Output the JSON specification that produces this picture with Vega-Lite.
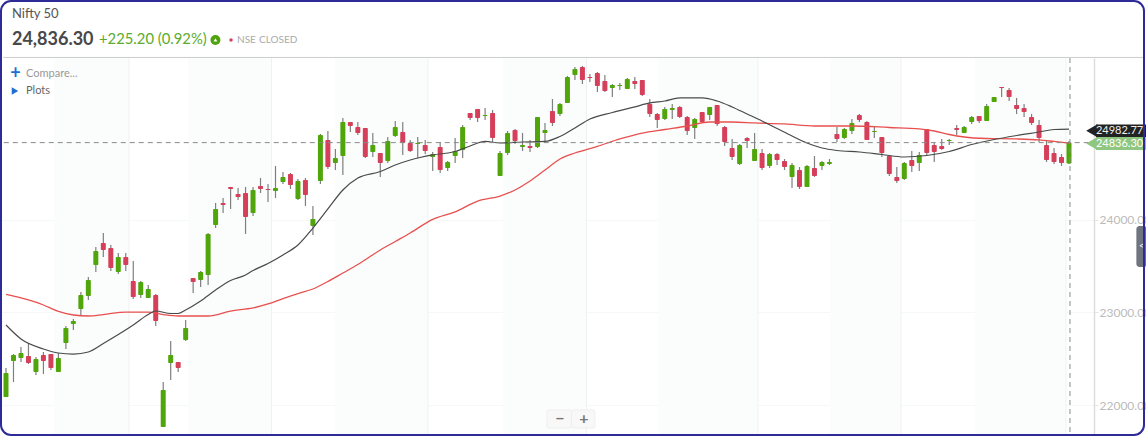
{"$schema":"https://vega.github.io/schema/vega-lite/v6.json","width":1094,"height":378,"padding":{"left":0,"top":58,"right":52,"bottom":0},"autosize":{"type":"none"},"background":"#ffffff","config":{"view":{"stroke":null},"axisX":{"disable":true},"axisY":{"title":null,"domainColor":"#dddddd","domainWidth":1.5,"tickColor":"#e4e4e4","tickSize":4,"labelColor":"#bbbbbb","labelFont":"Lato","labelFontSize":12,"labelPadding":1,"labelBound":false,"labelFlush":false,"gridColor":"#f6f7f7","format":".2f"},"scale":{"continuousPadding":0},"text":{"font":"Lato"}},"data":{"values":[{}]},"datasets":{"candles":[{"i":0,"o":22087,"h":22400,"l":22087,"c":22346},{"i":1,"o":22475,"h":22551,"l":22249,"c":22540},{"i":2,"o":22508,"h":22627,"l":22465,"c":22562},{"i":3,"o":22530,"h":22670,"l":22443,"c":22454},{"i":4,"o":22357,"h":22519,"l":22324,"c":22497},{"i":5,"o":22540,"h":22573,"l":22335,"c":22475},{"i":6,"o":22551,"h":22551,"l":22378,"c":22400},{"i":7,"o":22357,"h":22562,"l":22357,"c":22508},{"i":8,"o":22670,"h":22854,"l":22605,"c":22832},{"i":9,"o":22876,"h":22930,"l":22811,"c":22908},{"i":10,"o":23038,"h":23222,"l":22973,"c":23189},{"i":11,"o":23178,"h":23384,"l":23135,"c":23351},{"i":12,"o":23514,"h":23708,"l":23438,"c":23665},{"i":13,"o":23751,"h":23859,"l":23600,"c":23676},{"i":14,"o":23697,"h":23730,"l":23449,"c":23481},{"i":15,"o":23438,"h":23643,"l":23416,"c":23600},{"i":16,"o":23600,"h":23643,"l":23449,"c":23514},{"i":17,"o":23341,"h":23557,"l":23146,"c":23168},{"i":18,"o":23189,"h":23341,"l":23157,"c":23330},{"i":19,"o":23157,"h":23297,"l":23157,"c":23254},{"i":20,"o":23189,"h":23200,"l":22854,"c":22908},{"i":21,"o":21762,"h":22249,"l":21762,"c":22162},{"i":22,"o":22454,"h":22692,"l":22270,"c":22540},{"i":23,"o":22465,"h":22465,"l":22357,"c":22400},{"i":24,"o":22703,"h":22919,"l":22692,"c":22832},{"i":25,"o":23373,"h":23373,"l":23211,"c":23330},{"i":26,"o":23351,"h":23449,"l":23276,"c":23438},{"i":27,"o":23405,"h":23859,"l":23297,"c":23849},{"i":28,"o":23946,"h":24184,"l":23913,"c":24119},{"i":29,"o":24184,"h":24238,"l":24076,"c":24162},{"i":30,"o":24357,"h":24357,"l":24119,"c":24335},{"i":31,"o":24281,"h":24346,"l":24216,"c":24248},{"i":32,"o":24292,"h":24357,"l":23849,"c":24032},{"i":33,"o":24076,"h":24357,"l":24043,"c":24324},{"i":34,"o":24367,"h":24454,"l":24292,"c":24335},{"i":35,"o":24335,"h":24389,"l":24195,"c":24324},{"i":36,"o":24313,"h":24584,"l":24238,"c":24346},{"i":37,"o":24411,"h":24519,"l":24389,"c":24465},{"i":38,"o":24497,"h":24508,"l":24335,"c":24378},{"i":39,"o":24227,"h":24443,"l":24216,"c":24421},{"i":40,"o":24432,"h":24454,"l":24151,"c":24270},{"i":41,"o":23935,"h":24151,"l":23838,"c":24011},{"i":42,"o":24421,"h":24930,"l":24389,"c":24919},{"i":43,"o":24865,"h":24962,"l":24551,"c":24573},{"i":44,"o":24616,"h":24767,"l":24540,"c":24670},{"i":45,"o":24692,"h":25103,"l":24486,"c":25059},{"i":46,"o":25059,"h":25059,"l":24951,"c":25016},{"i":47,"o":25005,"h":25059,"l":24919,"c":24941},{"i":48,"o":24995,"h":24995,"l":24670,"c":24681},{"i":49,"o":24735,"h":24941,"l":24681,"c":24811},{"i":50,"o":24724,"h":24724,"l":24465,"c":24616},{"i":51,"o":24638,"h":24897,"l":24616,"c":24854},{"i":52,"o":24908,"h":25070,"l":24897,"c":25005},{"i":53,"o":24951,"h":25059,"l":24703,"c":24832},{"i":54,"o":24832,"h":24865,"l":24735,"c":24746},{"i":55,"o":24822,"h":24897,"l":24670,"c":24832},{"i":56,"o":24811,"h":24865,"l":24713,"c":24746},{"i":57,"o":24681,"h":24735,"l":24530,"c":24713},{"i":58,"o":24789,"h":24843,"l":24508,"c":24540},{"i":59,"o":24562,"h":24638,"l":24530,"c":24627},{"i":60,"o":24692,"h":24886,"l":24616,"c":24746},{"i":61,"o":24757,"h":25027,"l":24670,"c":25005},{"i":62,"o":25157,"h":25157,"l":25081,"c":25103},{"i":63,"o":25200,"h":25200,"l":25059,"c":25103},{"i":64,"o":25124,"h":25211,"l":25081,"c":25135},{"i":65,"o":25157,"h":25189,"l":24832,"c":24886},{"i":66,"o":24475,"h":24746,"l":24475,"c":24724},{"i":67,"o":24724,"h":24962,"l":24703,"c":24941},{"i":68,"o":24973,"h":24984,"l":24822,"c":24854},{"i":69,"o":24789,"h":24941,"l":24746,"c":24811},{"i":70,"o":24800,"h":24865,"l":24735,"c":24778},{"i":71,"o":24789,"h":25113,"l":24778,"c":25113},{"i":72,"o":24941,"h":25049,"l":24832,"c":24973},{"i":73,"o":25178,"h":25308,"l":25016,"c":25049},{"i":74,"o":25146,"h":25265,"l":25124,"c":25254},{"i":75,"o":25265,"h":25557,"l":25265,"c":25546},{"i":76,"o":25567,"h":25654,"l":25513,"c":25632},{"i":77,"o":25654,"h":25665,"l":25470,"c":25513},{"i":78,"o":25546,"h":25578,"l":25492,"c":25535},{"i":79,"o":25589,"h":25600,"l":25384,"c":25449},{"i":80,"o":25503,"h":25567,"l":25384,"c":25395},{"i":81,"o":25427,"h":25470,"l":25330,"c":25459},{"i":82,"o":25449,"h":25481,"l":25405,"c":25459},{"i":83,"o":25416,"h":25535,"l":25416,"c":25524},{"i":84,"o":25503,"h":25546,"l":25416,"c":25470},{"i":85,"o":25513,"h":25513,"l":25340,"c":25351},{"i":86,"o":25254,"h":25308,"l":25113,"c":25146},{"i":87,"o":25146,"h":25157,"l":24995,"c":25081},{"i":88,"o":25092,"h":25222,"l":25081,"c":25200},{"i":89,"o":25189,"h":25254,"l":25092,"c":25211},{"i":90,"o":25222,"h":25232,"l":25103,"c":25113},{"i":91,"o":25113,"h":25124,"l":24919,"c":24962},{"i":92,"o":24995,"h":25103,"l":24876,"c":25092},{"i":93,"o":25168,"h":25168,"l":25049,"c":25059},{"i":94,"o":25135,"h":25222,"l":25081,"c":25222},{"i":95,"o":25243,"h":25243,"l":25016,"c":25038},{"i":96,"o":25005,"h":25016,"l":24800,"c":24843},{"i":97,"o":24778,"h":24876,"l":24648,"c":24681},{"i":98,"o":24605,"h":24822,"l":24594,"c":24811},{"i":99,"o":24886,"h":24897,"l":24778,"c":24854},{"i":100,"o":24638,"h":24941,"l":24638,"c":24767},{"i":101,"o":24724,"h":24767,"l":24540,"c":24562},{"i":102,"o":24584,"h":24724,"l":24562,"c":24713},{"i":103,"o":24713,"h":24724,"l":24594,"c":24648},{"i":104,"o":24638,"h":24659,"l":24540,"c":24573},{"i":105,"o":24465,"h":24616,"l":24346,"c":24594},{"i":106,"o":24540,"h":24573,"l":24335,"c":24357},{"i":107,"o":24357,"h":24594,"l":24357,"c":24584},{"i":108,"o":24562,"h":24692,"l":24465,"c":24475},{"i":109,"o":24584,"h":24638,"l":24540,"c":24627},{"i":110,"o":24605,"h":24659,"l":24594,"c":24627},{"i":111,"o":24930,"h":25005,"l":24843,"c":24876},{"i":112,"o":24886,"h":24995,"l":24876,"c":24984},{"i":113,"o":24962,"h":25092,"l":24930,"c":25049},{"i":114,"o":25135,"h":25146,"l":25059,"c":25081},{"i":115,"o":25059,"h":25070,"l":24865,"c":24865},{"i":116,"o":24951,"h":25005,"l":24886,"c":24962},{"i":117,"o":24897,"h":24897,"l":24681,"c":24724},{"i":118,"o":24692,"h":24703,"l":24475,"c":24497},{"i":119,"o":24465,"h":24573,"l":24400,"c":24421},{"i":120,"o":24443,"h":24627,"l":24432,"c":24616},{"i":121,"o":24648,"h":24746,"l":24519,"c":24584},{"i":122,"o":24616,"h":24735,"l":24530,"c":24703},{"i":123,"o":24984,"h":24984,"l":24703,"c":24724},{"i":124,"o":24811,"h":24832,"l":24627,"c":24735},{"i":125,"o":24800,"h":24876,"l":24757,"c":24767},{"i":126,"o":24854,"h":24876,"l":24811,"c":24865},{"i":127,"o":24995,"h":25027,"l":24919,"c":24973},{"i":128,"o":24941,"h":25016,"l":24941,"c":25005},{"i":129,"o":25059,"h":25124,"l":25038,"c":25113},{"i":130,"o":25124,"h":25124,"l":25049,"c":25070},{"i":131,"o":25070,"h":25254,"l":25070,"c":25232},{"i":132,"o":25276,"h":25330,"l":25276,"c":25330},{"i":133,"o":25438,"h":25438,"l":25330,"c":25427},{"i":134,"o":25405,"h":25427,"l":25286,"c":25330},{"i":135,"o":25243,"h":25319,"l":25146,"c":25200},{"i":136,"o":25211,"h":25254,"l":25113,"c":25168},{"i":137,"o":25113,"h":25146,"l":25027,"c":25049},{"i":138,"o":25027,"h":25081,"l":24843,"c":24886},{"i":139,"o":24811,"h":24854,"l":24627,"c":24648},{"i":140,"o":24724,"h":24778,"l":24605,"c":24627},{"i":141,"o":24681,"h":24713,"l":24584,"c":24616},{"i":142,"o":24611.1,"h":24854,"l":24605,"c":24836.3}],"maFast":[{"i":0,"v":22865},{"i":2,"v":22714},{"i":5,"v":22606},{"i":7,"v":22562},{"i":9,"v":22551},{"i":11,"v":22573},{"i":13,"v":22665},{"i":15,"v":22762},{"i":17,"v":22865},{"i":19,"v":22978},{"i":20,"v":23016},{"i":22,"v":22989},{"i":23,"v":22989},{"i":24,"v":23027},{"i":26,"v":23124},{"i":28,"v":23243},{"i":30,"v":23346},{"i":32,"v":23405},{"i":33,"v":23454},{"i":35,"v":23530},{"i":37,"v":23622},{"i":39,"v":23730},{"i":41,"v":23913},{"i":43,"v":24119},{"i":45,"v":24324},{"i":47,"v":24454},{"i":50,"v":24524},{"i":52,"v":24594},{"i":54,"v":24648},{"i":57,"v":24703},{"i":60,"v":24740},{"i":62,"v":24800},{"i":64,"v":24849},{"i":66,"v":24832},{"i":69,"v":24843},{"i":72,"v":24849},{"i":74,"v":24903},{"i":76,"v":24995},{"i":78,"v":25092},{"i":81,"v":25162},{"i":84,"v":25222},{"i":86,"v":25265},{"i":88,"v":25286},{"i":90,"v":25319},{"i":93,"v":25319},{"i":95,"v":25286},{"i":97,"v":25222},{"i":99,"v":25146},{"i":101,"v":25070},{"i":103,"v":24989},{"i":105,"v":24908},{"i":107,"v":24832},{"i":109,"v":24778},{"i":111,"v":24751},{"i":114,"v":24735},{"i":117,"v":24708},{"i":120,"v":24681},{"i":123,"v":24697},{"i":126,"v":24740},{"i":129,"v":24816},{"i":132,"v":24870},{"i":135,"v":24913},{"i":138,"v":24951},{"i":140,"v":24978},{"i":142,"v":24982.77}],"maSlow":[{"i":0,"v":23195},{"i":2,"v":23157},{"i":5,"v":23081},{"i":7,"v":23011},{"i":9,"v":22973},{"i":11,"v":22962},{"i":13,"v":22978},{"i":16,"v":23005},{"i":19,"v":23005},{"i":21,"v":22978},{"i":23,"v":22962},{"i":27,"v":22962},{"i":30,"v":23016},{"i":33,"v":23049},{"i":35,"v":23092},{"i":37,"v":23151},{"i":39,"v":23205},{"i":41,"v":23254},{"i":43,"v":23335},{"i":45,"v":23427},{"i":47,"v":23519},{"i":50,"v":23676},{"i":52,"v":23768},{"i":54,"v":23860},{"i":57,"v":24006},{"i":60,"v":24087},{"i":63,"v":24205},{"i":66,"v":24259},{"i":68,"v":24324},{"i":70,"v":24421},{"i":72,"v":24540},{"i":74,"v":24659},{"i":76,"v":24724},{"i":79,"v":24795},{"i":82,"v":24876},{"i":85,"v":24940},{"i":88,"v":24978},{"i":91,"v":25016},{"i":94,"v":25059},{"i":97,"v":25059},{"i":100,"v":25049},{"i":104,"v":25038},{"i":108,"v":25016},{"i":113,"v":25016},{"i":118,"v":25000},{"i":122,"v":24984},{"i":124,"v":24962},{"i":126,"v":24924},{"i":128,"v":24897},{"i":131,"v":24881},{"i":135,"v":24876},{"i":138,"v":24865},{"i":140,"v":24849},{"i":142,"v":24832}],"bands":[{"a":6.41,"b":16.43},{"a":24.31,"b":35.47},{"a":43.95,"b":56.37},{"a":66.39,"b":77.55},{"a":87.1,"b":100.45},{"a":110.07,"b":119.56},{"a":129.44,"b":141.6}],"grid":[{"i":16.43},{"i":35.47},{"i":56.37},{"i":77.55},{"i":100.45},{"i":119.56},{"i":141.6}]},"layer":[{"data":{"name":"bands"},"mark":{"type":"rect","fill":"#fbfcfc"},"encoding":{"x":{"field":"a","type":"quantitative","scale":{"domain":[-0.8015,145.34],"nice":false,"zero":false,"padding":0}},"x2":{"field":"b"}}},{"data":{"name":"grid"},"mark":{"type":"rule","stroke":"#f0f1f1","strokeWidth":1},"encoding":{"x":{"field":"i","type":"quantitative"}}},{"data":{"name":"candles"},"mark":{"type":"rule","stroke":"#7f7f7f","strokeWidth":1.2},"encoding":{"x":{"field":"i","type":"quantitative"},"y":{"field":"l","type":"quantitative","scale":{"domain":[21665,25751],"nice":false,"zero":false,"padding":0},"axis":{"orient":"right","grid":true,"values":[22000,23000,24000],"format":".2f"}},"y2":{"field":"h"}}},{"data":{"name":"candles"},"mark":{"type":"bar","size":5,"cornerRadius":1},"encoding":{"x":{"field":"i","type":"quantitative"},"y":{"field":"o","type":"quantitative"},"y2":{"field":"c"},"color":{"condition":{"test":"datum.c>=datum.o","value":"#50a50b"},"value":"#d53f5a"}}},{"data":{"name":"maSlow"},"mark":{"type":"line","stroke":"#e8504f","strokeWidth":1.3,"interpolate":"monotone"},"encoding":{"x":{"field":"i","type":"quantitative"},"y":{"field":"v","type":"quantitative"}}},{"data":{"name":"maFast"},"mark":{"type":"line","stroke":"#4a4a4a","strokeWidth":1.2,"interpolate":"monotone"},"encoding":{"x":{"field":"i","type":"quantitative"},"y":{"field":"v","type":"quantitative"}}},{"mark":{"type":"rule","stroke":"#8a8a8a","strokeWidth":1,"strokeDash":[5,4]},"encoding":{"x":{"datum":-0.3,"type":"quantitative"},"x2":{"datum":145.34},"y":{"datum":24836.3,"type":"quantitative"}}},{"mark":{"type":"rule","stroke":"#8a8a8a","strokeWidth":1,"strokeDash":[5,4]},"encoding":{"x":{"datum":142.13,"type":"quantitative"},"y":{"datum":25751,"type":"quantitative"},"y2":{"datum":21665}}},{"mark":{"type":"rule","stroke":"#cccccc","strokeWidth":1},"encoding":{"x":{"datum":-0.35,"type":"quantitative"},"x2":{"datum":152.0},"y":{"datum":25757,"type":"quantitative"}}},{"mark":{"type":"rect","fill":"#222222"},"encoding":{"x":{"datum":145.6,"type":"quantitative"},"x2":{"datum":152.3},"y":{"datum":25032,"type":"quantitative"},"y2":{"datum":24897}}},{"mark":{"type":"point","shape":"triangle-left","filled":true,"fill":"#222222","opacity":1,"size":169},"encoding":{"x":{"datum":145.05,"type":"quantitative"},"y":{"datum":24965,"type":"quantitative"}}},{"mark":{"type":"rect","fill":"#8fc680"},"encoding":{"x":{"datum":145.6,"type":"quantitative"},"x2":{"datum":152.3},"y":{"datum":24897,"type":"quantitative"},"y2":{"datum":24757}}},{"mark":{"type":"point","shape":"triangle-left","filled":true,"fill":"#8fc680","opacity":1,"size":169},"encoding":{"x":{"datum":145.05,"type":"quantitative"},"y":{"datum":24827,"type":"quantitative"}}},{"mark":{"type":"text","text":"24982.77","align":"left","baseline":"middle","fontSize":11,"fill":"#eeeeee"},"encoding":{"x":{"datum":145.6,"type":"quantitative"},"y":{"datum":24962,"type":"quantitative"}}},{"mark":{"type":"text","text":"24836.30","align":"left","baseline":"middle","fontSize":11,"fill":"#ffffff"},"encoding":{"x":{"datum":145.6,"type":"quantitative"},"y":{"datum":24822,"type":"quantitative"}}},{"mark":{"type":"text","text":"Nifty 50","align":"left","baseline":"middle","fontSize":13,"fill":"#555555"},"encoding":{"x":{"datum":0.8,"type":"quantitative"},"y":{"datum":26227,"type":"quantitative"}}},{"mark":{"type":"text","text":"24,836.30","align":"left","baseline":"middle","fontSize":18,"fontWeight":"bold","fill":"#484848"},"encoding":{"x":{"datum":0.8,"type":"quantitative"},"y":{"datum":25946,"type":"quantitative"}}},{"mark":{"type":"text","text":"+225.20 (0.92%)","align":"left","baseline":"middle","fontSize":14.8,"fill":"#5cab2c"},"encoding":{"x":{"datum":12.42,"type":"quantitative"},"y":{"datum":25946,"type":"quantitative"}}},{"mark":{"type":"point","shape":"circle","filled":true,"fill":"#4fa30f","opacity":1,"size":100},"encoding":{"x":{"datum":27.98,"type":"quantitative"},"y":{"datum":25946,"type":"quantitative"}}},{"mark":{"type":"point","shape":"triangle-up","filled":true,"fill":"#ffffff","opacity":1,"size":14},"encoding":{"x":{"datum":27.98,"type":"quantitative"},"y":{"datum":25946,"type":"quantitative"}}},{"mark":{"type":"point","shape":"circle","filled":true,"fill":"#d5405a","opacity":1,"size":12},"encoding":{"x":{"datum":30.06,"type":"quantitative"},"y":{"datum":25946,"type":"quantitative"}}},{"mark":{"type":"text","text":"NSE","align":"left","baseline":"middle","fontSize":10,"fill":"#aaaaaa"},"encoding":{"x":{"datum":30.86,"type":"quantitative"},"y":{"datum":25946,"type":"quantitative"}}},{"mark":{"type":"text","text":"CLOSED","align":"left","baseline":"middle","fontSize":10,"fill":"#aaaaaa"},"encoding":{"x":{"datum":33.8,"type":"quantitative"},"y":{"datum":25946,"type":"quantitative"}}},{"mark":{"type":"text","text":"+","align":"center","baseline":"middle","fontSize":18,"fontWeight":"bold","fill":"#1d6fd0"},"encoding":{"x":{"datum":1.27,"type":"quantitative"},"y":{"datum":25583,"type":"quantitative"}}},{"mark":{"type":"text","text":"Compare...","align":"left","baseline":"middle","fontSize":11,"fill":"#999999"},"encoding":{"x":{"datum":2.67,"type":"quantitative"},"y":{"datum":25583,"type":"quantitative"}}},{"mark":{"type":"point","shape":"triangle-right","filled":true,"fill":"#1d6fd0","opacity":1,"size":55},"encoding":{"x":{"datum":1.2,"type":"quantitative"},"y":{"datum":25395,"type":"quantitative"}}},{"mark":{"type":"text","text":"Plots","align":"left","baseline":"middle","fontSize":11,"fill":"#666666"},"encoding":{"x":{"datum":2.67,"type":"quantitative"},"y":{"datum":25395,"type":"quantitative"}}},{"mark":{"type":"rect","fill":"#f8f8f8","stroke":"#eeeeee","cornerRadius":2},"encoding":{"x":{"datum":72.27,"type":"quantitative"},"x2":{"datum":75.54},"y":{"datum":21946,"type":"quantitative"},"y2":{"datum":21752}}},{"mark":{"type":"rect","fill":"#f8f8f8","stroke":"#eeeeee","cornerRadius":2},"encoding":{"x":{"datum":75.54,"type":"quantitative"},"x2":{"datum":78.68},"y":{"datum":21946,"type":"quantitative"},"y2":{"datum":21752}}},{"mark":{"type":"text","text":"−","align":"center","baseline":"middle","fontSize":16,"fontWeight":"bold","fill":"#777777"},"encoding":{"x":{"datum":74.0,"type":"quantitative"},"y":{"datum":21854,"type":"quantitative"}}},{"mark":{"type":"text","text":"+","align":"center","baseline":"middle","fontSize":16,"fontWeight":"bold","fill":"#777777"},"encoding":{"x":{"datum":77.21,"type":"quantitative"},"y":{"datum":21854,"type":"quantitative"}}},{"mark":{"type":"rect","fill":"#70747f","cornerRadius":3},"encoding":{"x":{"datum":151.0,"type":"quantitative"},"x2":{"datum":152.4},"y":{"datum":23935,"type":"quantitative"},"y2":{"datum":23492}}},{"mark":{"type":"text","text":"<","align":"center","baseline":"middle","fontSize":9,"fill":"#ffffff"},"encoding":{"x":{"datum":151.7,"type":"quantitative"},"y":{"datum":23714,"type":"quantitative"}}},{"mark":{"type":"rect","fill":null,"fillOpacity":0,"stroke":"#2e2a98","strokeWidth":2,"cornerRadius":10},"encoding":{"x":{"datum":-0.668,"type":"quantitative"},"x2":{"datum":152.02},"y":{"datum":26367,"type":"quantitative"},"y2":{"datum":21676}}}]}
